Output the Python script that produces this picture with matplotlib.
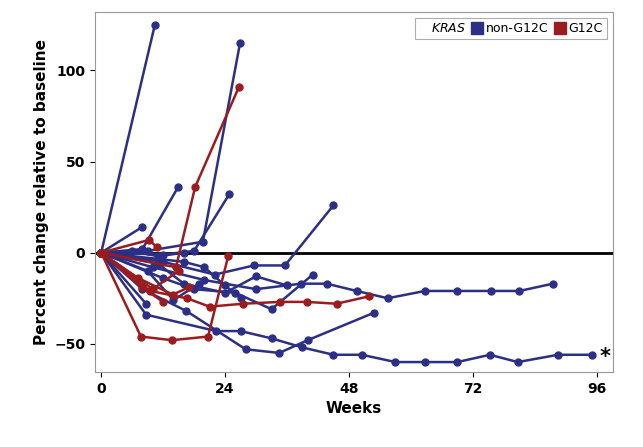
import matplotlib
matplotlib.use("Agg")
import matplotlib.pyplot as plt
from matplotlib.lines import Line2D

BLUE = "#2b2f86"
RED = "#9b1c1f"

blue_lines = [
    ([0, 10.4], [0, 125]),
    ([0, 7.9], [0, 14]),
    ([0, 8, 14.9], [0, 2, 36]),
    ([0, 9, 19.7, 26.9], [0, 1, 6, 115]),
    ([0, 12, 18, 24.8], [0, -1, 1, 32]),
    ([0, 12, 22, 29.6, 35.6, 45], [0, -5, -12, -7, -7, 26]),
    ([0, 10, 20, 30, 38.7, 43.7, 49.5, 55.5, 62.7, 69, 75.5, 81, 87.5],
     [0, -8, -15, -20, -17, -17, -21, -25, -21, -21, -21, -21, -17]),
    ([0, 8.7, 22.3, 27, 33, 39, 45, 50.5, 57, 62.7, 69, 75.3, 80.7, 88.5, 95],
     [0, -34, -43, -43, -47, -52, -56, -56, -60, -60, -60, -56, -60, -56, -56]),
    ([0, 8, 16.5, 28, 34.5, 40, 52.8], [0, -20, -32, -53, -55, -48, -33]),
    ([0, 12, 18, 26, 33, 41], [0, -14, -20, -22, -31, -12]),
    ([0, 11, 16, 24, 30, 36], [0, -6, -17, -22, -13, -18]),
    ([0, 9, 14, 19], [0, -10, -26, -17]),
    ([0, 8.7], [0, -28]),
    ([0, 16, 20, 24, 27], [0, -5, -8, -18, -25]),
    ([0, 6, 11, 16], [0, 1, -2, 0]),
]
red_lines = [
    ([0, 7.7, 13.7, 20.7, 24.6], [0, -46, -48, -46, -2]),
    ([0, 14.5, 18.2, 26.7], [0, -8, 36, 91]),
    ([0, 9.5, 16.6, 21, 27.5, 34.6, 39.8, 45.6, 51.8],
     [0, -21, -25, -29.6, -28, -27, -27, -28, -24]),
    ([0, 9.3, 10.8], [0, 7, 3]),
    ([0, 7.2, 13.9, 17], [0, -14, -23, -19]),
    ([0, 7.9, 12], [0, -19, -27]),
    ([0, 10, 15], [0, -20, -10]),
]

fig, ax = plt.subplots(figsize=(6.43, 4.47), dpi=100)
fig.subplots_adjust(left=0.148, right=0.953, top=0.973, bottom=0.168)
ax.axhline(0, color="black", lw=2, zorder=1)
for xs, ys in blue_lines:
    ax.plot(xs, ys, color=BLUE, lw=1.8, marker="o", ms=5, zorder=3)
for xs, ys in red_lines:
    ax.plot(xs, ys, color=RED, lw=1.8, marker="o", ms=5, zorder=3)
ax.text(96.6, -57, "*", fontsize=15, fontweight="bold", va="center", ha="left")

ax.set_xlim(-1.16, 99.1)
ax.set_ylim(-65.4, 132)
ax.set_xticks([0, 24, 48, 72, 96])
ax.set_yticks([-50, 0, 50, 100])
ax.set_xlabel("Weeks", fontsize=11, fontweight="bold")
ax.set_ylabel("Percent change relative to baseline", fontsize=11, fontweight="bold")
ax.tick_params(labelsize=10)
for lab in ax.get_xticklabels() + ax.get_yticklabels():
    lab.set_fontweight("bold")
for s in ax.spines.values():
    s.set_color("#999999")

handles = [
    Line2D([], [], color="none", label=r"$\it{KRAS}$"),
    Line2D([], [], ls="none", marker="s", ms=8, color=BLUE, label="non-G12C"),
    Line2D([], [], ls="none", marker="s", ms=8, color=RED, label="G12C"),
]
leg = ax.legend(handles=handles, loc="upper right", ncol=3, fontsize=9,
                handlelength=0.6, handletextpad=0.4, columnspacing=0.6,
                borderpad=0.3, fancybox=False, edgecolor="#999999",
                bbox_to_anchor=(1.0, 1.0))
leg.get_frame().set_linewidth(0.8)
fig.savefig("out.png", dpi=100)
